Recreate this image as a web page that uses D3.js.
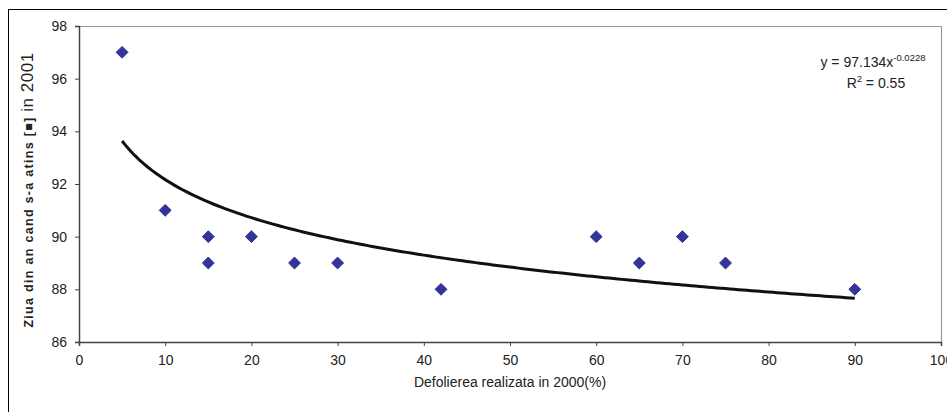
<!DOCTYPE html>
<html>
<head>
<meta charset="utf-8">
<script src="https://cdn.jsdelivr.net/npm/d3@7"></script>
<style>
  body { margin: 0; background: #fff; }
  svg { display: block; font-family: "Liberation Sans", Arial, sans-serif; }
</style>
</head>
<body>
<div id="chart"></div>
<script>
// Defoliere (%) in 2000 si ziua din an in 2001
const defoliere = [5, 10, 15, 15, 20, 25, 30, 42, 60, 65, 70, 75, 90];
const ziua = [97, 91, 90, 89, 90, 89, 89, 88, 90, 89, 90, 89, 88];
const xTicks = [0, 10, 20, 30, 40, 50, 60, 70, 80, 90, 100];
const yTicks = [86, 88, 90, 92, 94, 96, 98];
// coeficientii liniei de tendinta (putere), afisati pe grafic
const trendA = 97.134;
const trendB = -0.0228;
const trendR2 = 0.55;

const width = 947, height = 412;
const margin = { left: 79, top: 26, right: 6, bottom: 70 };

const svg = d3.select("#chart").append("svg")
  .attr("width", width).attr("height", height);

// chenar exterior
svg.append("rect")
  .attr("x", 8.5).attr("y", 9.5)
  .attr("width", width + 20).attr("height", height + 20)
  .attr("fill", "none").attr("stroke", "#000").attr("stroke-width", 1);

const x = d3.scaleLinear().domain([0, 100]).range([margin.left, width - margin.right]);
const y = d3.scaleLinear().domain([86, 98]).range([height - margin.bottom, margin.top]);

// marginea zonei de desen (sus si dreapta gri)
svg.append("path")
  .attr("d", `M${x(0)},${y(98) + 0.5}H${x(100) + 0.5}V${y(86)}`)
  .attr("fill", "none").attr("stroke", "#999").attr("stroke-width", 1.2);

const xAxis = svg.append("g")
  .attr("transform", `translate(0,${y(86)})`)
  .call(d3.axisBottom(x).tickValues(xTicks).tickSize(4).tickPadding(9));
const yAxis = svg.append("g")
  .attr("transform", `translate(${x(0)},0)`)
  .call(d3.axisLeft(y).tickValues(yTicks).tickSize(4).tickPadding(8));

[xAxis, yAxis].forEach(g => {
  g.select(".domain").attr("stroke", "#444").attr("stroke-width", 1.5);
  g.selectAll(".tick line").attr("stroke", "#444");
  g.selectAll(".tick text").attr("fill", "#222").style("font-size", "14px")
    .style("font-family", "'Liberation Sans', Arial, sans-serif");
});

// linia de tendinta
const trendX = d3.range(5, 90.01, 0.5);
const line = d3.line().x(d => x(d)).y(d => y(trendA * Math.pow(d, trendB)));
svg.append("path")
  .datum(trendX)
  .attr("d", line)
  .attr("fill", "none").attr("stroke", "#111").attr("stroke-width", 3);

// puncte
svg.selectAll("path.pt")
  .data(defoliere.map((d, i) => [d, ziua[i]]))
  .join("path")
  .attr("class", "pt")
  .attr("transform", d => `translate(${x(d[0])},${y(d[1])})`)
  .attr("d", d3.symbol(d3.symbolDiamond2, 90))
  .attr("fill", "#333399").attr("stroke", "#333399").attr("stroke-width", 1);

// ecuatia
const eq = svg.append("text")
  .attr("x", 873).attr("y", 67)
  .attr("text-anchor", "middle").attr("fill", "#222").style("font-size", "14px");
eq.append("tspan").text(`y = ${trendA}x`);
eq.append("tspan").attr("dy", -6).style("font-size", "9.5px").text(trendB.toFixed(4));
const r2 = svg.append("text")
  .attr("x", 876).attr("y", 88)
  .attr("text-anchor", "middle").attr("fill", "#222").style("font-size", "14px");
r2.append("tspan").text("R");
r2.append("tspan").attr("dy", -6).style("font-size", "9px").text("2");
r2.append("tspan").attr("dy", 6).text(` = ${trendR2}`);

// titluri axe
svg.append("text")
  .attr("x", (x(0) + x(100)) / 2).attr("y", 387)
  .attr("text-anchor", "middle").attr("fill", "#222").style("font-size", "14px")
  .text("Defolierea realizata in 2000(%)");

const yt = svg.append("text")
  .attr("transform", `translate(33,${(y(86) + y(98)) / 2 + 6}) rotate(-90)`)
  .attr("text-anchor", "middle").attr("fill", "#222").style("letter-spacing", "1.3px");
yt.append("tspan").style("font-size", "12.5px").style("font-weight", "bold")
  .text("Ziua din an  cand s-a atins ");
yt.append("tspan").style("font-size", "12.5px").style("font-weight", "bold").text("[■] ");
yt.append("tspan").style("font-size", "17px").style("letter-spacing", "0.5px").text("in 2001");
</script>
</body>
</html>
